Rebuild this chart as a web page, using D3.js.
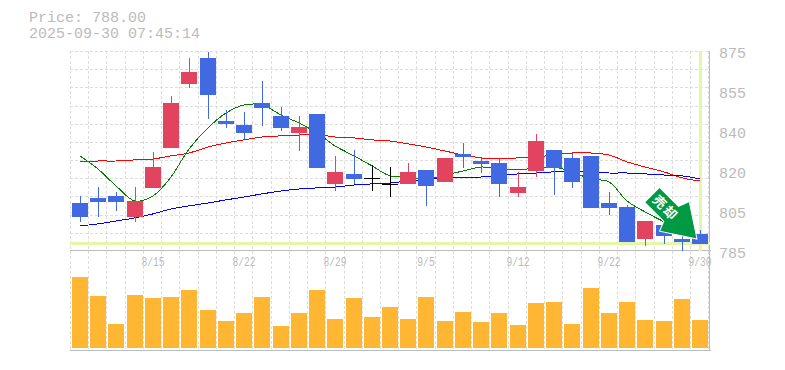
<!DOCTYPE html>
<html>
<head>
<meta charset="utf-8">
<script src="https://cdn.jsdelivr.net/npm/d3@7"></script>
<style>
html, body { margin: 0; padding: 0; background: #fff; }
text { font-family: "Liberation Mono", monospace; fill: #bbb; }
</style>
</head>
<body>
<div id="chart"></div>
<script>
const dateLabels = ['8/15', '8/22', '8/29', '9/5', '9/12', '9/22', '9/30'];
const dateIndexes = [4, 9, 14, 19, 24, 29, 34];
const priceLabels = ['875', '855', '840', '820', '805', '785'];

const open = [806.6, 808.9, 809.8, 800.3, 813.4, 831.4, 860.2, 871.9, 843.5, 841.7, 851.6, 845.8, 838.1, 846.7, 815.2, 819.7, 817.9, 815.2, 815.2, 821.5, 816.1, 828.7, 825.5, 824.6, 811.1, 821.0, 830.5, 826.9, 827.8, 806.6, 804.8, 790.4, 796.7, 790.4, 792.7];
const close = [800.3, 807.0, 807.0, 807.5, 822.8, 851.6, 865.6, 855.2, 842.2, 838.1, 849.4, 840.4, 840.8, 822.4, 820.6, 817.4, 817.9, 815.2, 820.6, 814.3, 826.9, 827.3, 824.2, 815.2, 813.8, 834.5, 822.4, 816.1, 804.4, 804.4, 789.1, 798.5, 791.8, 789.1, 788.0];
const high = [809.8, 813.8, 811.6, 813.8, 829.6, 854.8, 871.9, 874.6, 848.5, 847.6, 861.5, 849.8, 845.8, 846.7, 827.8, 830.5, 823.7, 822.8, 824.6, 821.5, 826.9, 833.6, 826.9, 826.9, 820.6, 837.7, 830.5, 829.1, 827.8, 811.6, 805.7, 798.5, 796.7, 792.0, 794.5];
const low = [798.1, 800.3, 803.0, 798.1, 813.4, 831.4, 858.4, 844.4, 840.4, 835.4, 841.3, 839.0, 830.0, 822.4, 812.0, 815.2, 812.0, 809.3, 815.2, 805.3, 816.1, 822.4, 820.1, 809.3, 809.3, 818.3, 810.2, 813.4, 804.4, 801.2, 789.1, 787.3, 788.2, 785.0, 788.0];
const volume = [71, 52, 24, 53, 50, 51, 58, 38, 27, 35, 51, 22, 35, 58, 29, 50, 31, 41, 29, 51, 27, 36, 26, 35, 23, 45, 46, 24, 60, 35, 46, 28, 27, 49, 28];
const maShort = [827.8, 821.9, 814.3, 807.5, 809.8, 818.3, 830.9, 840.4, 847.1, 850.7, 850.7, 846.2, 842.6, 838.1, 832.3, 827.8, 823.3, 818.8, 818.3, 817.4, 819.2, 821.0, 822.8, 821.9, 821.5, 822.4, 822.8, 820.6, 817.4, 816.1, 807.5, 802.6, 798.1, 793.6, 790.9];
const maMid = [825.1, 825.5, 825.5, 826.0, 826.4, 827.8, 829.1, 831.8, 833.6, 835.0, 836.3, 836.8, 837.2, 837.4, 836.3, 835.9, 835.0, 834.5, 833.2, 831.8, 830.0, 828.2, 826.9, 826.4, 826.9, 827.3, 828.2, 829.1, 829.1, 828.2, 825.1, 822.8, 820.6, 817.9, 816.5];
const maLong = [796.3, 797.2, 798.5, 799.9, 801.7, 803.9, 805.3, 806.6, 808.0, 809.3, 810.7, 812.0, 812.9, 813.4, 813.8, 814.7, 815.2, 815.6, 816.5, 817.0, 817.9, 817.9, 818.3, 818.8, 819.7, 820.1, 820.6, 820.6, 820.6, 820.1, 820.1, 819.7, 819.2, 818.8, 817.4];
const lastPrice = 788;
const priceText = 'Price: 788.00';
const timeText = '2025-09-30 07:45:14';
const signalText = '売却';

const width = 785;
const height = 370;
const margin = { left: 70, right: 710, top: 51, priceBottom: 251, volumeTop: 277, bottom: 350 };
const candleWidth = 16;

const svg = d3.select('#chart')
    .append('svg')
    .attr('width', width)
    .attr('height', height)
    .style('display', 'block');

const indexes = d3.range(volume.length);

// left edge of each candle slot
const xScale = d3.scaleLinear()
    .domain([0, volume.length - 1])
    .range([72, 692]);
const slotX = i => Math.round(xScale(i));

const yScale = d3.scaleLinear()
    .domain([785, 875])
    .range([margin.priceBottom, margin.top]);
const py = v => Math.round(yScale(v));

const volumeScale = d3.scaleLinear()
    .domain([0, d3.max(volume)])
    .range([348, margin.volumeTop]);

const priceLabelScale = d3.scalePoint()
    .domain(priceLabels)
    .range([margin.top, margin.priceBottom]);

// grid
const grid = svg.append('g').attr('stroke', '#ddd').attr('stroke-dasharray', '3 2');
grid.selectAll('.v-grid')
    .data(d3.range(volume.length + 1))
    .join('line')
    .attr('class', 'v-grid')
    .attr('x1', i => i === volume.length ? 708.5 : slotX(i) - 1.5)
    .attr('x2', i => i === volume.length ? 708.5 : slotX(i) - 1.5)
    .attr('y1', margin.top)
    .attr('y2', margin.bottom);
grid.selectAll('.h-grid')
    .data(d3.range(11))
    .join('line')
    .attr('class', 'h-grid')
    .attr('x1', margin.left)
    .attr('x2', margin.right)
    .attr('y1', i => Math.round(margin.top + i * 200 / 11) + 0.5)
    .attr('y2', i => Math.round(margin.top + i * 200 / 11) + 0.5);

// frame
svg.append('line').attr('x1', margin.left).attr('x2', margin.right + 1)
    .attr('y1', margin.priceBottom - 0.5).attr('y2', margin.priceBottom - 0.5).attr('stroke', '#bbb');
svg.append('line').attr('x1', margin.left).attr('x2', margin.right + 1)
    .attr('y1', margin.bottom + 0.5).attr('y2', margin.bottom + 0.5).attr('stroke', '#bbb');
svg.append('line').attr('x1', margin.right - 0.5).attr('x2', margin.right - 0.5)
    .attr('y1', margin.top).attr('y2', margin.bottom).attr('stroke', '#bbb');

// current price cross
svg.append('line').attr('x1', margin.left).attr('x2', margin.right)
    .attr('y1', py(lastPrice) - 0.5).attr('y2', py(lastPrice) - 0.5)
    .attr('stroke', '#e4f7a6').attr('stroke-width', 3);
svg.append('line').attr('x1', slotX(34) + 8.5).attr('x2', slotX(34) + 8.5)
    .attr('y1', margin.top).attr('y2', margin.priceBottom)
    .attr('stroke', '#e4f7a6').attr('stroke-width', 3);

// moving averages
const maLine = d3.line()
    .x((d, i) => slotX(i) + 8)
    .y(d => yScale(d))
    .curve(d3.curveCatmullRom);
[[maShort, '#008000'], [maMid, '#ff0000'], [maLong, '#0000ff']].forEach(([values, color]) => {
    svg.append('path')
        .attr('d', maLine(values))
        .attr('fill', 'none')
        .attr('stroke', color)
        .attr('stroke-width', 1)
        .attr('shape-rendering', 'crispEdges');
});

// candles
const candleColor = i => open[i] === close[i] ? '#000' : (close[i] > open[i] ? '#e2445f' : '#4169e1');
const candles = svg.selectAll('.candle')
    .data(indexes)
    .join('g')
    .attr('class', 'candle');
candles.append('line')
    .attr('x1', i => slotX(i) + 8.5)
    .attr('x2', i => slotX(i) + 8.5)
    .attr('y1', i => py(high[i]))
    .attr('y2', i => py(low[i]))
    .attr('stroke', candleColor);
candles.append('rect')
    .attr('x', i => slotX(i))
    .attr('y', i => py(Math.max(open[i], close[i])))
    .attr('width', candleWidth)
    .attr('height', i => Math.max(1, py(Math.min(open[i], close[i])) - py(Math.max(open[i], close[i]))))
    .attr('fill', candleColor);

// volume
svg.selectAll('.vol')
    .data(indexes)
    .join('rect')
    .attr('class', 'vol')
    .attr('x', i => slotX(i))
    .attr('y', i => volumeScale(volume[i]))
    .attr('width', candleWidth)
    .attr('height', i => volumeScale(0) - volumeScale(volume[i]))
    .attr('fill', '#ffb733');

// signal arrow, pointing at the last candle
const arrow = svg.append('g')
    .attr('transform', `translate(${slotX(34) + 5}, ${py(lastPrice) - 5}) rotate(45)`);
arrow.append('path')
    .attr('d', d3.line()([[0, 0], [-32, -21], [-36, -10], [-63, -10], [-63, 11], [-36, 11], [-32, 21]]) + 'Z')
    .attr('fill', '#009944')
    .attr('stroke', '#fff')
    .attr('stroke-width', 1);
arrow.append('text')
    .attr('x', -44)
    .attr('y', 5)
    .attr('text-anchor', 'middle')
    .attr('font-size', 13)
    .attr('font-weight', 'bold')
    .attr('letter-spacing', 2)
    .style('font-family', '"Noto Sans CJK JP"')
    .style('fill', '#fff')
    .text(signalText);

// axes labels
svg.selectAll('.price-label')
    .data(priceLabels)
    .join('text')
    .attr('class', 'price-label')
    .attr('x', 719)
    .attr('y', d => priceLabelScale(d) + 7)
    .attr('font-size', 15)
    .text(d => d);
svg.selectAll('.date-label')
    .data(dateLabels)
    .join('text')
    .attr('class', 'date-label')
    .attr('x', (d, i) => slotX(dateIndexes[i]) + 8)
    .attr('y', 266)
    .attr('text-anchor', 'middle')
    .attr('font-size', 13)
    .attr('textLength', d => d.length * 5.8)
    .attr('lengthAdjust', 'spacingAndGlyphs')
    .text(d => d);

// header
svg.append('text').attr('x', 29).attr('y', 22).attr('font-size', 15).text(priceText);
svg.append('text').attr('x', 29).attr('y', 38).attr('font-size', 15).text(timeText);
</script>
</body>
</html>
